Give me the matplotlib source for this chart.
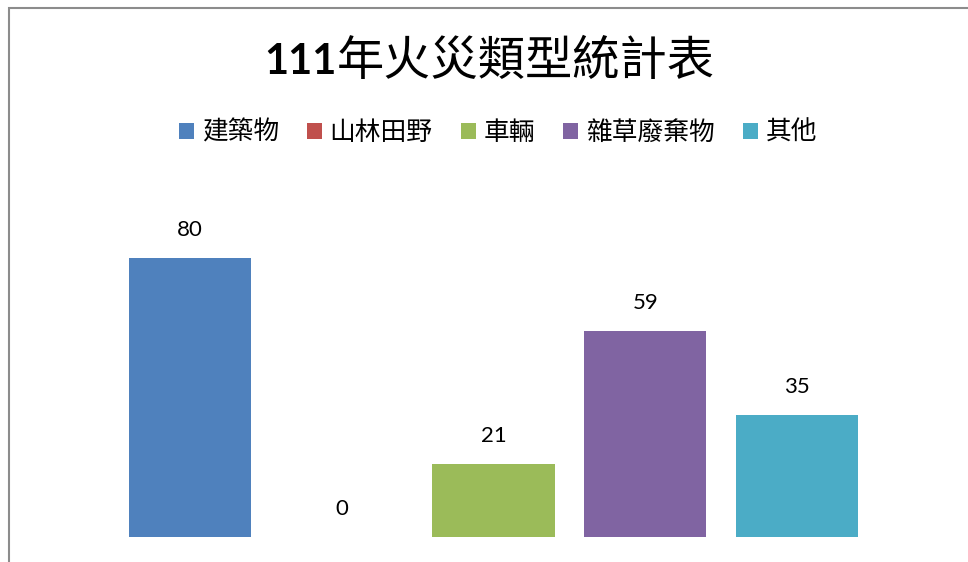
import matplotlib
matplotlib.use('Agg')
import matplotlib.pyplot as plt
from matplotlib.patches import Rectangle
import numpy as np

CJK = ['Noto Sans CJK TC', 'DejaVu Sans']

categories = ['建築物', '山林田野', '車輛', '雜草廢棄物', '其他']
values = [80, 0, 21, 59, 35]
colors = ['#4F81BD', '#C0504D', '#9BBB59', '#8064A2', '#4BACC6']
title_num = '111'
title_rest = '年火災類型統計表'

W, H = 968, 562
fig = plt.figure(figsize=(W / 100, H / 100), dpi=100)
ax = fig.add_axes([114 / W, 25 / H, 759 / W, 349 / H])

x = np.arange(len(categories))
bars = []
for i, (cat, v, c) in enumerate(zip(categories, values, colors)):
    b = ax.bar(x[i], v, width=0.804, color=c, label=cat)
    bars.append(b)
    ax.annotate(str(v), (x[i], v), xytext=(0, 20), textcoords='offset points',
                ha='center', va='center', fontsize=16, family=['Lato', 'DejaVu Sans'])

ax.set_xlim(-0.5, len(categories) - 0.5)
ax.set_ylim(0, 100)
ax.axis('off')

# title: bold digits + regular CJK
split_x = 337 / W
ty = 1 - 62 / H
fig.text(split_x, ty, title_num, ha='right', va='center', fontsize=30,
         fontweight='bold', family=['Lato', 'DejaVu Sans'])
fig.text(split_x, ty, title_rest, ha='left', va='center', fontsize=34, family=CJK)

fig.legend(handles=[b[0] for b in bars], labels=categories, loc='center',
           bbox_to_anchor=(498 / W, 1 - 133 / H), ncol=5, frameon=False,
           prop={'family': CJK, 'size': 18.5}, handlelength=0.58, handleheight=0.58,
           handletextpad=0.3, columnspacing=1.1, borderaxespad=0, borderpad=0)

# chart frame (only left and top edges visible in the crop)
fig.add_artist(Rectangle((9 / W, -0.1), 1.2, 1.1 - 8 / H, transform=fig.transFigure,
                         fill=False, edgecolor='#8c8c8c', linewidth=1.5, clip_on=False))

fig.savefig('out.png', dpi=100)
